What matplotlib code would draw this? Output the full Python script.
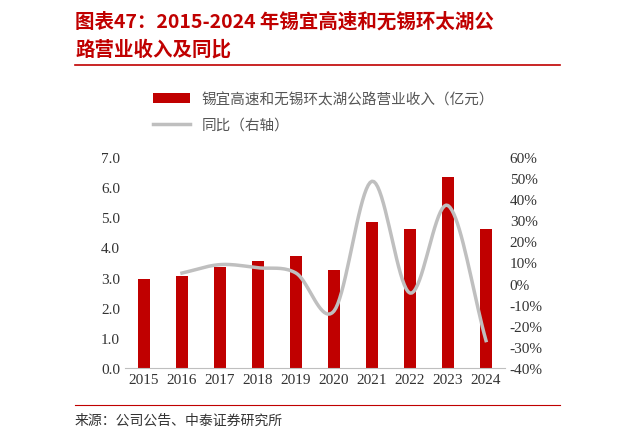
import matplotlib
matplotlib.use("Agg")
import matplotlib.pyplot as plt
import numpy as np

plt.rcParams['font.family'] = ['Noto Sans CJK SC', 'DejaVu Sans']

years = ['2015','2016','2017','2018','2019','2020','2021','2022','2023','2024']
revenue = [2.95, 3.05, 3.35, 3.55, 3.7, 3.25, 4.85, 4.62, 6.35, 4.62]
yoy_years = years[1:]
yoy = [5.0, 9.0, 7.5, 5.0, -13.0, 48.5, -4.5, 37.0, -27.0]

def smooth(x, y, n=20):
    x = np.asarray(x, float); y = np.asarray(y, float)
    px = np.concatenate([[2*x[0]-x[1]], x, [2*x[-1]-x[-2]]])
    py = np.concatenate([[2*y[0]-y[1]], y, [2*y[-1]-y[-2]]])
    xs, ys = [], []
    for i in range(1, len(px)-2):
        t = np.linspace(0, 1, n, endpoint=False)
        for P, out in ((px, xs), (py, ys)):
            p0, p1, p2, p3 = P[i-1], P[i], P[i+1], P[i+2]
            out.extend(0.5*((2*p1) + (-p0+p2)*t + (2*p0-5*p1+4*p2-p3)*t**2 + (-p0+3*p1-3*p2+p3)*t**3))
    xs.append(x[-1]); ys.append(y[-1])
    return np.array(xs), np.array(ys)

fig = plt.figure(figsize=(6.21, 4.39), dpi=100)
ax = fig.add_axes([125/621, 1-369/439, 380/621, 211/439])
x = np.arange(len(years))
red = '#C00000'
ax.bar(x, revenue, width=0.3, color=red, label='锡宜高速和无锡环太湖公路营业收入（亿元）', zorder=2)
ax.set_ylim(0, 7)
ax.set_yticks(np.arange(0, 7.01, 1))
ax.set_yticklabels([f'{v:.1f}' for v in np.arange(0, 7.01, 1)], family='Liberation Serif')
ax.set_xticks(x)
ax.set_xticklabels(years, family='Liberation Serif')
ax.set_xlim(-0.5, len(years)-0.5)
for s in ['top', 'right', 'left']:
    ax.spines[s].set_visible(False)
ax.spines['bottom'].set_color('#BFBFBF')
ax.tick_params(axis='both', length=0, labelsize=11, colors='#333333')

ax2 = ax.twinx()
sx, sy = smooth(x[1:], yoy)
ax2.plot(sx, sy, color='#BFBFBF', lw=2.5, label='同比（右轴）')
ax2.set_ylim(-40, 60)
ax2.set_yticks(np.arange(-40, 61, 10))
ax2.set_yticklabels([f'{v}%' for v in range(-40, 61, 10)], family='Liberation Serif')
for s in ['top', 'right', 'left', 'bottom']:
    ax2.spines[s].set_visible(False)
ax2.tick_params(axis='y', length=0, labelsize=11, colors='#333333')

h1, l1 = ax.get_legend_handles_labels()
h2, l2 = ax2.get_legend_handles_labels()
fig.legend(h1+h2, l1+l2, loc='upper left', bbox_to_anchor=(140/621, 1-80/439),
           frameon=False, fontsize=10.5, labelcolor='#555555', handlelength=2.5,
           labelspacing=0.8)

fig.text(75/621, 1-22/439, '图表47：2015-2024 年锡宜高速和无锡环太湖公', color=red,
         fontsize=14, fontweight='bold', style='italic', va='center')
fig.text(75/621, 1-50/439, '路营业收入及同比', color=red,
         fontsize=14, fontweight='bold', style='italic', va='center')
fig.add_artist(plt.Line2D([75/621, 560/621], [1-66/439]*2, color=red, lw=1.2))
fig.add_artist(plt.Line2D([75/621, 560/621], [1-406/439]*2, color=red, lw=0.8))
fig.text(75/621, 1-421/439, '来源：公司公告、中泰证券研究所', color='#333333', fontsize=10, va='center')

fig.savefig('out.png', dpi=100)
